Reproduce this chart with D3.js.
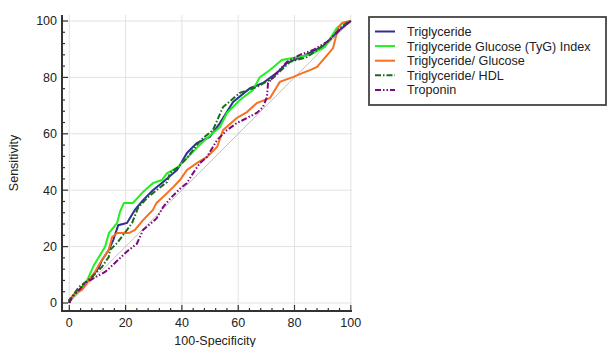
<!DOCTYPE html>
<html>
<head>
<meta charset="utf-8">
<script src="https://cdn.jsdelivr.net/npm/d3@7"></script>
<style>
  body { margin: 0; background: #fff; }
  text { font-family: "Liberation Sans", Arial, sans-serif; fill: #222; }
</style>
</head>
<body>
<script>
// ROC points [100-Specificity, Sensitivity]
const triglyceride = [[0,0],[0,1],[4.5,5.7],[8,9.2],[10.6,12.8],[11.6,15.2],[14,18.8],[15.6,22.3],[17.4,27.6],[20.5,28.4],[23.3,33],[26.2,36.5],[29.7,40],[33.3,42.9],[38.3,47.2],[41.8,53.2],[45.3,56.7],[49.9,58.9],[53.5,63.8],[58.2,71.3],[64.2,76.2],[68.8,78],[73.7,81.6],[77.3,85.1],[84,88],[90,91],[95,96],[100,100]];
const tygIndex = [[0,0],[0,1],[5.6,6.4],[8.8,13.5],[12.7,19.9],[14.1,24.8],[17,28.4],[18,32.3],[19.4,35.5],[22.6,35.5],[26.2,39.4],[29.7,42.5],[32.9,43.6],[34.7,46],[38.3,48],[41.8,51.4],[45.3,55],[48.2,57.8],[51,60.3],[53.5,62.4],[56,67.4],[60.6,72],[65.2,75.5],[67.7,80.1],[71.3,82.6],[75.5,86.2],[79.4,86.9],[85.5,88],[90.8,90.8],[91.9,92.6],[95,97.5],[97.2,99.3],[100,100]];
const tgGlucose = [[0,0],[0,1],[2,3.5],[4.5,4.6],[7,8.2],[9.1,11],[10.9,14.2],[14,18.8],[15.2,23.4],[17,24.8],[21.2,24.8],[23.3,25.9],[26.2,29.4],[29.7,33],[31,35.5],[33.3,37.6],[36.9,41.1],[39.3,43.6],[41.8,47.2],[45.3,49.6],[48.9,51.8],[52.5,55.3],[54.6,61.3],[59.5,65.6],[63.1,67.7],[66.6,70.9],[71.3,72.7],[74.8,78.4],[79.4,80.1],[83,81.6],[85.5,82.6],[88,83.7],[91.6,87.9],[93.7,90.4],[95.5,97.5],[96.9,99.3],[100,100]];
const tgHdl = [[0,0],[0,1],[3.5,5.7],[8,9.2],[11.6,12.8],[14,16.3],[14.5,18.8],[17,21.3],[20.5,25.9],[22.3,28.4],[24.4,33.7],[27.6,37.2],[31,40],[34.7,42.9],[35.8,46.1],[38.7,48.2],[41.8,51.4],[45.3,56],[47.5,58.5],[51,61.3],[54.6,69.5],[60.6,74.5],[66.6,76.6],[72.4,79.8],[78.4,85.5],[84.4,87.2],[89,90.4],[92.6,93.3],[96.2,97.5],[98.6,99.3],[100,100]];
const troponin = [[0,0],[1,2],[3.5,4.6],[5.6,7],[9,9],[12.7,11],[16,14],[20.4,18.2],[24,21],[26.2,25.9],[28.7,28],[31,30],[33.3,34],[35.8,37],[39.3,40.5],[41.8,42.5],[44,46.1],[46.4,49.6],[48.9,51.8],[52.5,57.8],[56,61.3],[59.5,63.8],[61.7,64.9],[66.6,67.4],[68.8,69.5],[70.2,73],[70.6,78],[73.7,81.6],[77.3,85.5],[81.9,88],[86.6,89.7],[91.6,92.6],[95,95.7],[97.2,97.9],[100,100]];

const seriesNames = ["Triglyceride", "Triglyceride Glucose (TyG) Index", "Triglyceride/ Glucose", "Triglyceride/ HDL", "Troponin"];
const seriesData = [triglyceride, tygIndex, tgGlucose, tgHdl, troponin];
const seriesColors = ["#2e3192", "#22ee22", "#f57020", "#1a6a1a", "#7a0a80"];
const seriesDash = [null, null, null, "6,2,1.5,2", "6,2,1.5,2,1.5,2"];

const majorTicks = [0, 20, 40, 60, 80, 100];
const minorTicks = d3.range(0, 101, 4).filter(v => v % 20 !== 0);

const width = 608, height = 347;
const svg = d3.select('body').append('svg')
    .attr('width', width)
    .attr('height', height);

const x = d3.scaleLinear().domain([0, 100]).range([69.3, 350.8]);
const y = d3.scaleLinear().domain([0, 100]).range([303, 21]);
const plotLeft = 62, plotRight = 352, plotTop = 15, plotBottom = 311;

// grid
svg.append('g').selectAll('line')
    .data(majorTicks).enter().append('line')
    .attr('x1', plotLeft).attr('x2', plotRight)
    .attr('y1', d => y(d)).attr('y2', d => y(d))
    .attr('stroke', '#e2e2e2').attr('stroke-width', 1);
svg.append('g').selectAll('line')
    .data(majorTicks).enter().append('line')
    .attr('y1', plotTop).attr('y2', plotBottom)
    .attr('x1', d => x(d)).attr('x2', d => x(d))
    .attr('stroke', '#e2e2e2').attr('stroke-width', 1);

// diagonal reference
svg.append('line')
    .attr('x1', x(0)).attr('y1', y(0))
    .attr('x2', x(100)).attr('y2', y(100))
    .attr('stroke', '#d9b8b8').attr('stroke-width', 1);

// curves
const line = d3.line().x(d => x(d[0])).y(d => y(d[1]));
seriesData.forEach((data, i) => {
    svg.append('path')
        .datum(data)
        .attr('d', line)
        .attr('fill', 'none')
        .attr('stroke', seriesColors[i])
        .attr('stroke-width', 2)
        .attr('stroke-dasharray', seriesDash[i]);
});

// axes
const axisColor = '#333';
svg.append('line').attr('x1', plotLeft).attr('x2', plotLeft).attr('y1', plotTop).attr('y2', plotBottom + 1)
    .attr('stroke', axisColor).attr('stroke-width', 2);
svg.append('line').attr('x1', plotLeft - 1).attr('x2', plotRight).attr('y1', plotBottom).attr('y2', plotBottom)
    .attr('stroke', axisColor).attr('stroke-width', 2);

const tickSet = majorTicks.map(v => [v, 6]).concat(minorTicks.map(v => [v, 3]));
svg.append('g').selectAll('line')
    .data(tickSet).enter().append('line')
    .attr('x1', plotLeft).attr('x2', d => plotLeft + d[1])
    .attr('y1', d => y(d[0])).attr('y2', d => y(d[0]))
    .attr('stroke', axisColor).attr('stroke-width', 1.2);
svg.append('g').selectAll('line')
    .data(tickSet).enter().append('line')
    .attr('y1', plotBottom).attr('y2', d => plotBottom - d[1])
    .attr('x1', d => x(d[0])).attr('x2', d => x(d[0]))
    .attr('stroke', axisColor).attr('stroke-width', 1.2);

svg.append('g').selectAll('text')
    .data(majorTicks).enter().append('text')
    .attr('x', 57).attr('y', d => y(d)).attr('dy', '0.35em')
    .attr('text-anchor', 'end').style('font-size', '12.5px')
    .text(d => d);
svg.append('g').selectAll('text')
    .data(majorTicks).enter().append('text')
    .attr('x', d => x(d)).attr('y', 327)
    .attr('text-anchor', 'middle').style('font-size', '12.5px')
    .text(d => d);

svg.append('text')
    .attr('transform', 'translate(18,163) rotate(-90)')
    .attr('text-anchor', 'middle').style('font-size', '12.5px')
    .text('Sensitivity');
svg.append('text')
    .attr('x', 215).attr('y', 345)
    .attr('text-anchor', 'middle').style('font-size', '12.5px')
    .text('100-Specificity');

// legend
const legend = svg.append('g');
legend.append('rect')
    .attr('x', 369).attr('y', 17).attr('width', 237).attr('height', 88)
    .attr('fill', '#fff').attr('stroke', '#444').attr('stroke-width', 1.8);
seriesNames.forEach((name, i) => {
    const ly = 31.5 + i * 14.6;
    legend.append('line')
        .attr('x1', 375).attr('x2', 395).attr('y1', ly).attr('y2', ly)
        .attr('stroke', seriesColors[i]).attr('stroke-width', 2)
        .attr('stroke-dasharray', seriesDash[i]);
    legend.append('text')
        .attr('x', 407).attr('y', ly).attr('dy', '0.35em')
        .style('font-size', '12.6px')
        .text(name);
});
</script>
</body>
</html>
